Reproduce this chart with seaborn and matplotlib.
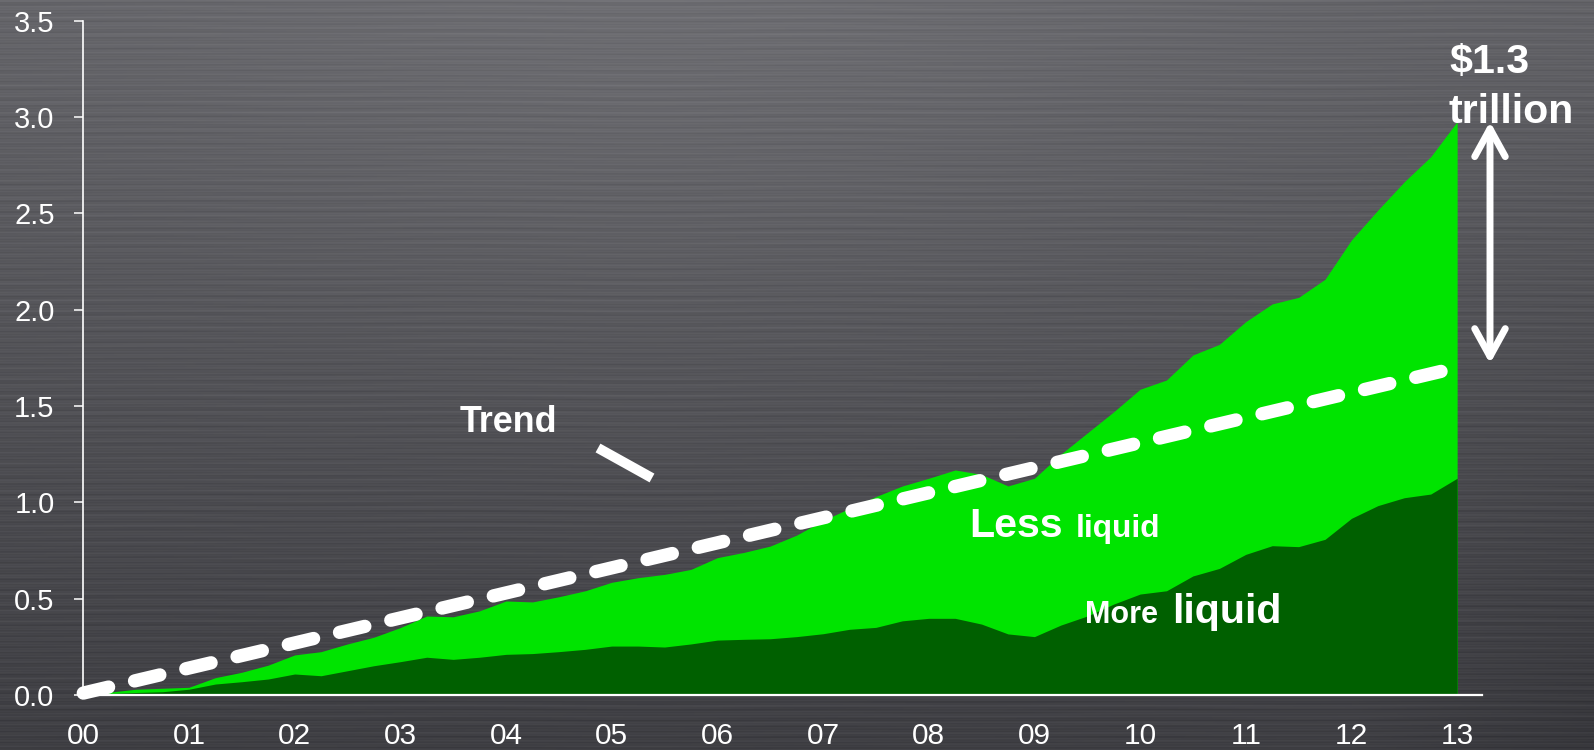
import numpy as np
import pandas as pd
import matplotlib
matplotlib.use("Agg")
import matplotlib.pyplot as plt
import seaborn as sns

# ---------------- data ----------------
year_labels = ["00", "01", "02", "03", "04", "05", "06", "07", "08", "09", "10", "11", "12", "13"]
quarters = np.arange(0, 13.001, 0.25)  # quarterly observations 2000-2013

total_assets = [0.00, 0.015, 0.03, 0.035,
                0.04, 0.09, 0.118, 0.155,
                0.208, 0.225, 0.265, 0.30,
                0.35, 0.41, 0.406, 0.437,
                0.488, 0.483, 0.51, 0.541,
                0.585, 0.609, 0.626, 0.652,
                0.713, 0.74, 0.773, 0.83,
                0.905, 0.969, 1.03, 1.085,
                1.125, 1.168, 1.145, 1.085,
                1.125, 1.25, 1.36, 1.47,
                1.587, 1.635, 1.765, 1.82,
                1.938, 2.03, 2.064, 2.158,
                2.362, 2.517, 2.664, 2.794,
                2.976]

more_liquid = [0.00, 0.008, 0.013, 0.017,
               0.03, 0.057, 0.069, 0.083,
               0.109, 0.10, 0.126, 0.152,
               0.173, 0.196, 0.185, 0.196,
               0.211, 0.215, 0.225, 0.237,
               0.254, 0.254, 0.249, 0.265,
               0.285, 0.289, 0.292, 0.303,
               0.318, 0.341, 0.351, 0.385,
               0.398, 0.398, 0.368, 0.317,
               0.303, 0.363, 0.41, 0.472,
               0.524, 0.541, 0.618, 0.657,
               0.73, 0.775, 0.77, 0.808,
               0.917, 0.983, 1.024, 1.043,
               1.125]

trend_x = [0.0, 12.85]
trend_y = [0.01, 1.68]

gap_top = 2.976      # top of total at end
gap_bottom = 1.72    # trend at end
gap_label = ["$1.3", "trillion"]

df = pd.DataFrame({"t": quarters, "total": total_assets, "liquid": more_liquid})
trend_df = pd.DataFrame({"t": trend_x, "v": trend_y})

# ---------------- style ----------------
sns.set_theme(style="dark")
plt.rcParams["font.family"] = ["Liberation Sans", "DejaVu Sans"]

LIGHT = "#00E400"
DARK = "#006000"

W, H = 1594, 750
fig = plt.figure(figsize=(W / 100, H / 100), dpi=100)

# brushed-metal background
bg = fig.add_axes([0, 0, 1, 1], zorder=-10)
yy = np.linspace(0, 1, H)[:, None]
xx = np.linspace(0, 1, W)[None, :]
r = np.arange(H)[:, None].astype(float)
c = np.arange(W)[None, :].astype(float)
base = 0.385 - 0.14 * yy
base = base + 0.045 * np.exp(-((xx - 0.42) / 0.38) ** 2 - (yy / 0.55) ** 2)
base = base - 0.03 * np.clip((xx - 0.85) / 0.15, 0, 1) * yy
streak = (0.012 * np.sin(r * 2.31 + 0.6 * np.sin(c / 180.0))
          + 0.010 * np.sin(r * 5.17 + 1.3 + 0.8 * np.sin(c / 97.0 + 1.0))
          + 0.008 * np.sin(r * 11.9 + 0.4 + np.sin(c / 53.0 + 2.0))
          + 0.006 * np.sin(r * 0.73 + 2.0))
lum = base + streak
img = np.dstack([lum, lum, lum + 0.018])
img = np.clip(img, 0, 1)
bg.imshow(img, aspect="auto", extent=[0, 1, 0, 1], origin="upper")
bg.set_axis_off()

# main axes, placed to match pixel layout
x0_px, x1_px = 83.3, 1482.5
y0_px, y1_px = 695.0, 20.7
ax = fig.add_axes([x0_px / W, 1 - y0_px / H, (x1_px - x0_px) / W, (y0_px - y1_px) / H])
ax.set_facecolor("none")
ax.patch.set_alpha(0)

ax.fill_between(df["t"], 0, df["total"], color=LIGHT, lw=0, zorder=1)
ax.fill_between(df["t"], 0, df["liquid"], color=DARK, lw=0, zorder=1.5)

sns.lineplot(data=trend_df, x="t", y="v", ax=ax, color="white", lw=9.6, zorder=3)
tl = ax.lines[-1]
tl.set_dashes([1.95, 2.0])
tl.set_dash_capstyle("round")
tl.set_clip_on(False)

ax.set_xlim(0, 13.24)
ax.set_ylim(0, 3.5)
ax.set_xticks(range(len(year_labels)))
ax.set_xticklabels(year_labels)
ax.set_yticks([0, 0.5, 1.0, 1.5, 2.0, 2.5, 3.0, 3.5])
ax.set_yticklabels(["0.0", "0.5", "1.0", "1.5", "2.0", "2.5", "3.0", "3.5"])
ax.set_xlabel("")
ax.set_ylabel("")
ax.grid(False)

for s in ["top", "right"]:
    ax.spines[s].set_visible(False)
ax.spines["left"].set_color("white")
ax.spines["left"].set_linewidth(1.2)
ax.spines["bottom"].set_color("white")
ax.spines["bottom"].set_linewidth(1.6)
ax.spines["bottom"].set_zorder(2.5)

ax.tick_params(axis="y", which="major", left=True, length=6.7, width=1.1, color="white",
               labelsize=21, labelcolor="white", pad=14.0, direction="out")
ax.tick_params(axis="x", which="major", bottom=True, length=0, labelsize=21.5,
               labelcolor="white", pad=19.5)

# annotations
def to_data(px, py):
    return (px - x0_px) / ((x1_px - x0_px) / 13.24), (y0_px - py) / ((y0_px - y1_px) / 3.5)

tx, ty = to_data(508, 431.7)
ax.text(tx, ty, "Trend", color="white", fontsize=25.8, fontweight="bold",
        ha="center", va="baseline")
p1 = to_data(598, 448)
p2 = to_data(652, 478)
ax.plot([p1[0], p2[0]], [p1[1], p2[1]], color="white", lw=7.2, solid_capstyle="butt",
        zorder=4)

lx, ly = to_data(969.6, 536.7)
ax.text(lx, ly, "Less", color="white", fontsize=29.6, fontweight="bold", ha="left", va="baseline")
lx2, _ = to_data(1076, 536.7)
ax.text(lx2, ly, "liquid", color="white", fontsize=22.8, fontweight="bold", ha="left", va="baseline")

mx, my = to_data(1084.6, 622.7)
ax.text(mx, my, "More", color="white", fontsize=22.0, fontweight="bold", ha="left", va="baseline")
mx2, _ = to_data(1172, 622.7)
ax.text(mx2, my, "liquid", color="white", fontsize=29.6, fontweight="bold", ha="left", va="baseline")

gx, gy1 = to_data(1449, 73.3)
_, gy2 = to_data(1449, 122.7)
ax.text(gx, gy1, gap_label[0], color="white", fontsize=29.6, fontweight="bold",
        ha="left", va="baseline", clip_on=False)
ax.text(gx, gy2, gap_label[1], color="white", fontsize=29.6, fontweight="bold",
        ha="left", va="baseline", clip_on=False)

arrow_x, _ = to_data(1490, 0)
ax.annotate("", xy=(arrow_x, gap_bottom), xytext=(arrow_x, gap_top),
            arrowprops=dict(arrowstyle="<->,head_length=2.0,head_width=1.1",
                            color="white", lw=5, shrinkA=0, shrinkB=0,
                            mutation_scale=10),
            annotation_clip=False)

fig.savefig("out.png", dpi=100)
